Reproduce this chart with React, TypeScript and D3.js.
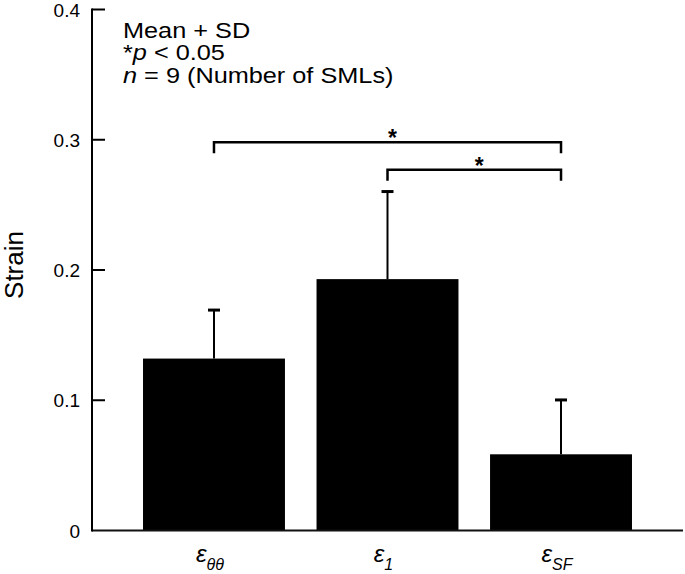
import React from "react";
import * as d3 from "d3";

const categories = ["e00", "e1", "eSF"];
const subscripts = ["θθ", "1", "SF"];
const means = [0.132, 0.193, 0.0585];
const sds = [0.038, 0.068, 0.0425];
const yTicks = [0, 0.1, 0.2, 0.3, 0.4];
const yTickLabels = ["0", "0.1", "0.2", "0.3", "0.4"];
const sigPairs = [
  { from: 0, to: 2, level: 0.298 },
  { from: 1, to: 2, level: 0.277 },
];
const noteLines = ["Mean + SD", "*p < 0.05", "n = 9 (Number of SMLs)"];

const W = 685;
const H = 574;
const FONT = "'Liberation Sans', Arial, Helvetica, sans-serif";

export default function App() {
  const y = d3.scaleLinear().domain([0, 0.4]).range([530.5, 9.5]);
  const x = d3
    .scaleBand<string>()
    .domain(categories)
    .range([92, 683])
    .paddingInner(0.182)
    .paddingOuter(0.294);
  const bw = x.bandwidth();
  const cx = (i: number) => (x(categories[i]) as number) + bw / 2;
  const axisX = 92;
  const base = y(0);

  return (
    <svg
      width={W}
      height={H}
      style={{ position: "fixed", left: 0, top: 0, background: "#fff" }}
      fontFamily={FONT}
    >
      <rect width={W} height={H} fill="#fff" />
      {/* bars */}
      {means.map((m, i) => (
        <rect
          key={"b" + i}
          x={x(categories[i])}
          y={y(m)}
          width={bw}
          height={base - y(m)}
          fill="#000"
        />
      ))}
      {/* error bars */}
      {means.map((m, i) => (
        <g key={"e" + i} stroke="#000">
          <line x1={cx(i)} x2={cx(i)} y1={y(m)} y2={y(m + sds[i])} strokeWidth={2} />
          <line
            x1={cx(i) - 6}
            x2={cx(i) + 6}
            y1={y(m + sds[i]) + 1}
            y2={y(m + sds[i]) + 1}
            strokeWidth={3}
          />
        </g>
      ))}
      {/* x baseline */}
      <line x1={axisX} x2={683} y1={base} y2={base} stroke="#111" strokeWidth={2} />
      {/* y axis */}
      <line x1={axisX} x2={axisX} y1={y(0.4) - 1} y2={base + 1} stroke="#000" strokeWidth={2} />
      {yTicks.map((t, i) => (
        <g key={"t" + i}>
          {t > 0 && (
            <line x1={axisX} x2={axisX + 13} y1={y(t)} y2={y(t)} stroke="#000" strokeWidth={2} />
          )}
          <text x={80} y={y(t) + 7} textAnchor="end" fontSize={19} fill="#000">
            {yTickLabels[i]}
          </text>
        </g>
      ))}
      {/* y label */}
      <text
        transform={`translate(23,265) rotate(-90)`}
        textAnchor="middle"
        fontSize={26}
        fill="#000"
      >
        Strain
      </text>
      {/* x labels */}
      {categories.map((c, i) => (
        <text
          key={"x" + i}
          x={cx(i) - 4}
          y={562}
          textAnchor="middle"
          fontStyle="italic"
          fill="#000"
        >
          <tspan fontSize={24}>ε</tspan>
          <tspan fontSize={16} dy={8}>
            {subscripts[i]}
          </tspan>
        </text>
      ))}
      {/* significance brackets */}
      {sigPairs.map((p, i) => {
        const x1 = cx(p.from);
        const x2 = cx(p.to);
        const yl = y(p.level);
        return (
          <g key={"s" + i}>
            <path
              d={`M${x1},${yl + 11}V${yl}H${x2}V${yl + 11}`}
              fill="none"
              stroke="#000"
              strokeWidth={2.5}
            />
            <text
              x={(x1 + x2) / 2 + 5}
              y={yl + 4}
              textAnchor="middle"
              fontSize={23}
              fontWeight="bold"
              fill="#000"
            >
              *
            </text>
          </g>
        );
      })}
      {/* notes */}
      <g transform="translate(123,0) scale(1.15,1)" fontSize={22} fill="#000">
        <text x={0} y={38}>
          {noteLines[0]}
        </text>
        <text x={0} y={60}>
          *<tspan fontStyle="italic">p</tspan>
          {noteLines[1].slice(2)}
        </text>
        <text x={0} y={83}>
          <tspan fontStyle="italic">n</tspan>
          {noteLines[2].slice(1)}
        </text>
      </g>
    </svg>
  );
}
